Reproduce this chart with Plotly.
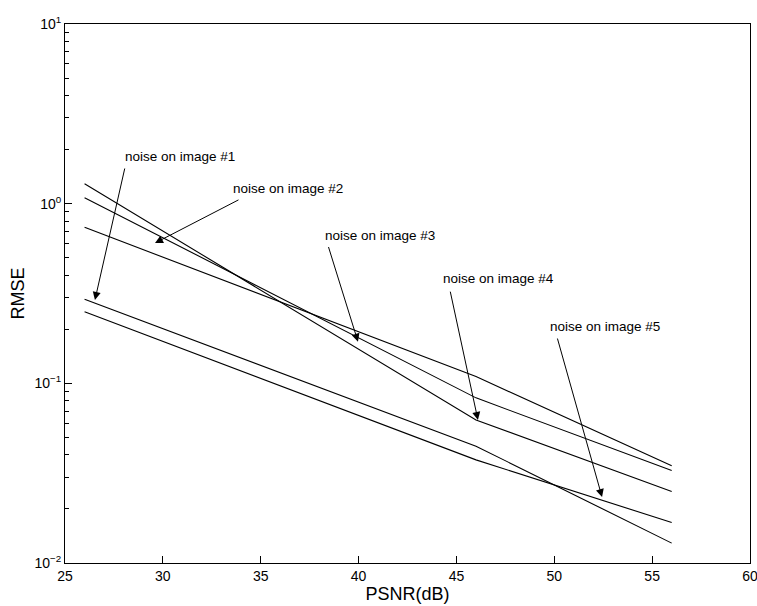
import math
import plotly.graph_objects as go

# ---- data ----
psnr = [26, 46, 56]
rmse_a = [1.29, 0.0625, 0.025]
rmse_b = [1.08, 0.083, 0.0327]
rmse_c = [0.739, 0.109, 0.0348]
rmse_d = [0.294, 0.0447, 0.0129]
rmse_e = [0.25, 0.0375, 0.0168]
series = [rmse_a, rmse_b, rmse_c, rmse_d, rmse_e]

x_ticks = [25, 30, 35, 40, 45, 50, 55, 60]
y_tickvals = [0.01, 0.1, 1, 10]
y_ticktext = ["10<sup>\u22122</sup>", "10<sup>\u22121</sup>", "10<sup>0</sup>", "10<sup>1</sup>"]
y_minor = [m * d for d in (0.01, 0.1, 1) for m in range(2, 10)]

labels = ["noise on image #1", "noise on image #2", "noise on image #3",
          "noise on image #4", "noise on image #5"]
label_x = [27.96, 33.48, 38.18, 44.21, 49.68]
label_y = [1.82, 1.207, 0.661, 0.381, 0.2085]
arrow_tail_x = [28.07, 33.94, 38.44, 44.67, 50.14]
arrow_tail_y = [1.60, 1.06, 0.585, 0.33, 0.181]
arrow_tip_x = [26.53, 29.60, 39.97, 46.10, 52.44]
arrow_tip_y = [0.291, 0.604, 0.1705, 0.0625, 0.0233]

FONT = "Liberation Sans, Arial, Helvetica, sans-serif"

fig = go.Figure()
for s in series:
    fig.add_trace(go.Scatter(x=psnr, y=s, mode="lines",
                             line=dict(color="black", width=1.1),
                             showlegend=False, hoverinfo="skip"))

for i in range(len(labels)):
    fig.add_annotation(x=label_x[i], y=math.log10(label_y[i]), text=labels[i],
                       showarrow=False, xanchor="left", yanchor="middle",
                       font=dict(family=FONT, size=13.5, color="black"))
    fig.add_annotation(x=arrow_tip_x[i], y=math.log10(arrow_tip_y[i]),
                       ax=arrow_tail_x[i], ay=math.log10(arrow_tail_y[i]),
                       axref="x", ayref="y", xref="x", yref="y",
                       text="", showarrow=True, arrowhead=2, arrowsize=1.6,
                       arrowwidth=1, arrowcolor="black", standoff=0)

fig.update_xaxes(range=[25, 60], tickvals=x_ticks, ticks="inside", ticklen=7,
                 tickcolor="black", showline=True, linecolor="black", linewidth=1,
                 mirror=True, showgrid=False, zeroline=False, automargin=False,
                 ticklabeloverflow="allow",
                 tickfont=dict(family=FONT, size=14, color="black"),
                 title=dict(text="PSNR(dB)", font=dict(family=FONT, size=18, color="black"),
                            standoff=0))
fig.update_yaxes(type="log", range=[-2, 1], tickvals=y_tickvals, ticktext=y_ticktext,
                 ticks="inside", ticklen=7, tickcolor="black", automargin=False,
                 minor=dict(ticks="inside", ticklen=4, tickcolor="black",
                            tickmode="array", tickvals=y_minor, showgrid=False),
                 showline=True, linecolor="black", linewidth=1, mirror=True,
                 showgrid=False, zeroline=False,
                 tickfont=dict(family=FONT, size=14, color="black"),
                 title=dict(text="RMSE", font=dict(family=FONT, size=18, color="black"),
                            standoff=5))

fig.update_layout(width=757, height=606, paper_bgcolor="white", plot_bgcolor="white",
                  margin=dict(l=65, r=7, t=24, b=43), showlegend=False)

fig.write_html("out.html", config={"displayModeBar": False},
               post_script="document.body.style.margin='0';document.body.style.overflow='hidden';")
